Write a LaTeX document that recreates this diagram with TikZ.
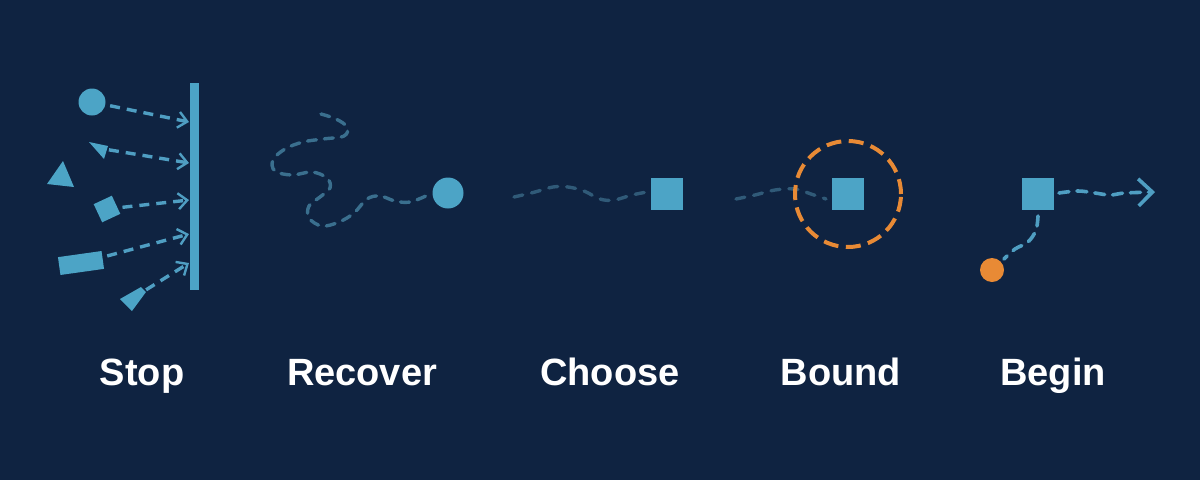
\documentclass[tikz,border=0pt]{standalone}
\usepackage{fontspec}
\setmainfont{Liberation Sans}
\usetikzlibrary{arrows.meta,shapes.geometric}
\definecolor{bg}{HTML}{0F2341}
\definecolor{shapeblue}{HTML}{4CA4C6}
\definecolor{dashblue}{HTML}{4F9EC2}
\definecolor{dimblue}{HTML}{3A6F8E}
\definecolor{faintblue}{HTML}{305A78}
\definecolor{orange}{HTML}{E88A35}
\tikzset{
  piece/.style={fill=shapeblue, draw=none, inner sep=0pt, outer sep=0pt},
  sq/.style={piece, rectangle, minimum size=32pt},
  dot/.style={piece, circle},
  stoparrow/.style={draw=dashblue, line width=3.4pt, dash pattern=on 10pt off 7pt,
    -{Straight Barb[length=9pt,width=16pt,line width=2.4pt]}},
  recdash/.style={draw=dimblue, line width=3.4pt, dash pattern=on 9pt off 8pt, line cap=round},
  faintdash/.style={draw=faintblue, line width=3.4pt, dash pattern=on 9pt off 9pt, line cap=round},
  begdash/.style={draw=dashblue, line width=3.6pt, dash pattern=on 10pt off 8pt, line cap=round},
  lbl/.style={text=white, font=\fontsize{38}{44}\selectfont\bfseries, anchor=base, inner sep=0pt}
}
\begin{document}
\begin{tikzpicture}[x=1pt,y=-1pt]
\fill[bg] (0,0) rectangle (1200,480);
\useasboundingbox (0,0) rectangle (1200,480);

% ---------- Stop ----------
\node[piece, rectangle, minimum width=9pt, minimum height=207pt] (bar) at (194.5,186.5) {};
\node[dot, minimum size=27pt] (s1) at (92,102) {};
\fill[shapeblue] (89,142) -- (108,146) -- (104,159) -- cycle;
\coordinate (s2) at (104,149);
\fill[shapeblue] (47,184) -- (63,161) -- (74,187) -- cycle;
\node[piece, rectangle, minimum size=20pt, rotate=25] (s3) at (107,209) {};
\node[piece, rectangle, minimum width=44pt, minimum height=18pt, rotate=8] (s4) at (81,263) {};
\fill[shapeblue] (120,299) -- (141,287) -- (146,292) -- (132,311) -- cycle;
\coordinate (s5) at (141,293);
\coordinate (e1) at (189,122);
\coordinate (e2) at (189,163);
\coordinate (e3) at (189,200);
\coordinate (e4) at (189,234);
\coordinate (e5) at (189,263);
\draw[stoparrow, shorten <=5pt] (s1) -- (e1);
\draw[stoparrow, shorten <=5pt] (s2) -- (e2);
\draw[stoparrow, shorten <=5pt] (s3) -- (e3);
\draw[stoparrow, shorten <=5pt] (s4) -- (e4);
\draw[stoparrow, shorten <=6pt] (s5) -- (e5);

% ---------- Recover ----------
\node[dot, minimum size=31pt] (r) at (448,193) {};
\draw[recdash] plot[smooth, tension=0.6] coordinates {(321,114) (336,119) (347,127) (344,136)
  (323,139) (303,142) (285,149) (273,160) (275,171) (292,175) (312,172) (327,178) (330,188)
  (320,197) (309,206) (309,218) (322,226) (339,222) (354,213) (367,199) (380,196) (395,201)
  (410,202) (428,195)};

% ---------- Choose ----------
\node[sq] (c) at (667,194) {};
\draw[faintdash] plot[smooth, tension=0.6] coordinates {(514,197) (535,192) (553,187) (568,187)
  (584,191) (600,199) (614,200) (632,195) (647,192)};

% ---------- Bound ----------
\node[sq] (b) at (848,194) {};
\draw[faintdash] plot[smooth, tension=0.6] coordinates {(736,199) (755,195) (775,190) (795,189)
  (811,194) (826,199)};
\node[circle, draw=orange, line width=4pt, dash pattern=on 15pt off 7.5pt, minimum size=106pt,
  inner sep=0pt] (ring) at (848,194) {};

% ---------- Begin ----------
\node[sq] (g) at (1038,194) {};
\node[circle, fill=orange, minimum size=24pt, inner sep=0pt] (o) at (992,270) {};
\coordinate (gend) at (1155,192);
\draw[begdash, -{Straight Barb[length=14pt,width=27pt,line width=3.6pt]}]
  plot[smooth, tension=0.6] coordinates {(1059,193) (1078,191) (1095,193) (1110,195) (1125,193) (gend)};
\draw[begdash] plot[smooth, tension=0.6] coordinates {(1038,216) (1036,230) (1028,242)
  (1015,249) (1004,259)};

% ---------- Labels ----------
\node[lbl] (l1) at (142,385) {Stop};
\node[lbl] (l2) at (362,385) {Recover};
\node[lbl] (l3) at (610,385) {Choose};
\node[lbl] (l4) at (841,385) {Bound};
\node[lbl] (l5) at (1053,385) {Begin};
\end{tikzpicture}
\end{document}
